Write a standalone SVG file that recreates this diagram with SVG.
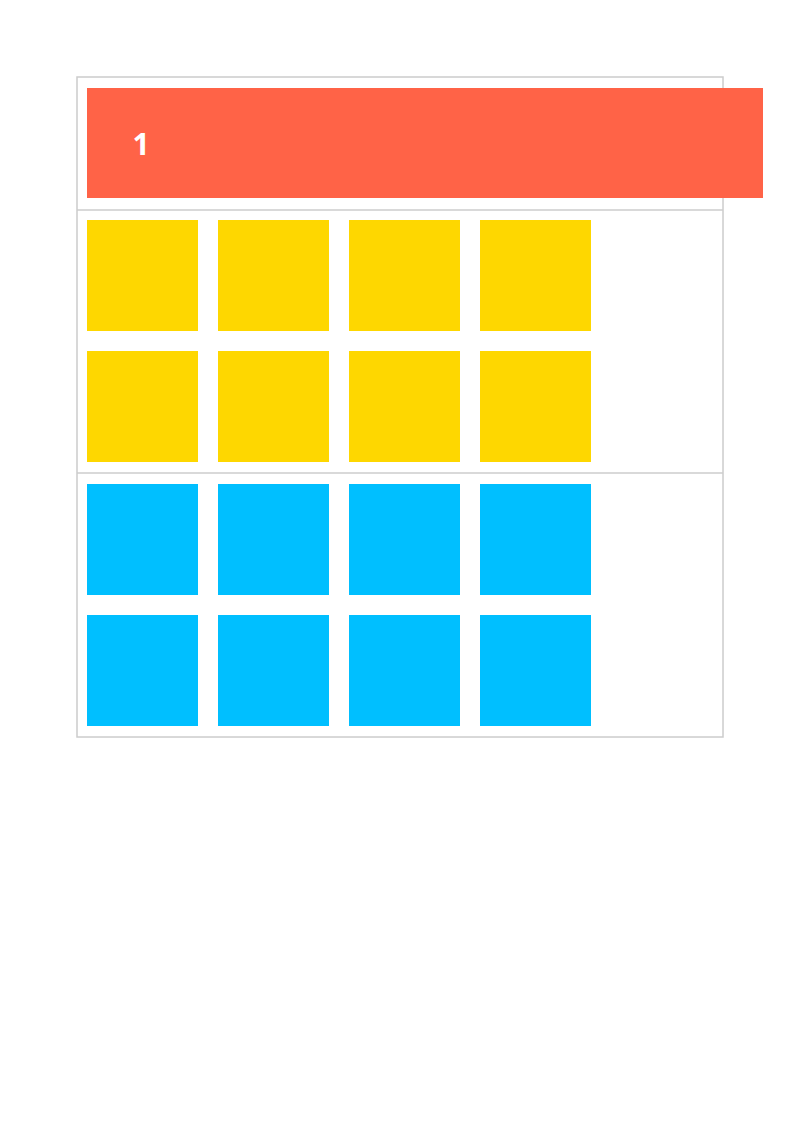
<svg xmlns="http://www.w3.org/2000/svg" width="800" height="1131" viewBox="0 0 800 1131">
<style>
.frame{fill:none;stroke:#cccccc;stroke-width:1.5}
.y{fill:#fed700}
.b{fill:#00bfff}
.r{fill:#ff6347}
.lbl{font-family:"Open Sans","Liberation Sans",sans-serif;font-weight:bold;font-size:30px;fill:#ffffff}
</style>
<rect width="800" height="1131" fill="#ffffff"/>
<g id="frame">
<rect class="frame" x="77" y="77" width="646" height="660"/>
<line class="frame" x1="77" y1="210" x2="723" y2="210"/>
<line class="frame" x1="77" y1="473" x2="723" y2="473"/>
</g>
<g id="header">
<rect class="r" x="87" y="88" width="676" height="110"/>
<text class="lbl" x="141" y="155" text-anchor="middle">1</text>
</g>
<g id="yellow">
<rect class="y" x="87" y="220" width="111" height="111"/>
<rect class="y" x="218" y="220" width="111" height="111"/>
<rect class="y" x="349" y="220" width="111" height="111"/>
<rect class="y" x="480" y="220" width="111" height="111"/>
<rect class="y" x="87" y="351" width="111" height="111"/>
<rect class="y" x="218" y="351" width="111" height="111"/>
<rect class="y" x="349" y="351" width="111" height="111"/>
<rect class="y" x="480" y="351" width="111" height="111"/>
</g>
<g id="blue">
<rect class="b" x="87" y="484" width="111" height="111"/>
<rect class="b" x="218" y="484" width="111" height="111"/>
<rect class="b" x="349" y="484" width="111" height="111"/>
<rect class="b" x="480" y="484" width="111" height="111"/>
<rect class="b" x="87" y="615" width="111" height="111"/>
<rect class="b" x="218" y="615" width="111" height="111"/>
<rect class="b" x="349" y="615" width="111" height="111"/>
<rect class="b" x="480" y="615" width="111" height="111"/>
</g>
</svg>
